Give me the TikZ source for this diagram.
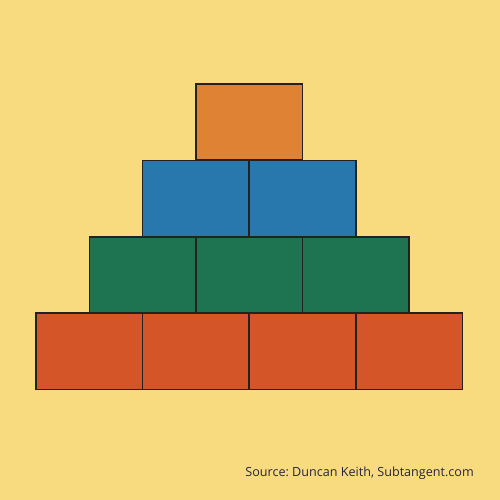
\documentclass[tikz,border=0pt]{standalone}
\usepackage{fontspec}
\setmainfont{Open Sans}
\definecolor{bg}{HTML}{F9DB7F}
\definecolor{cOr}{HTML}{E08233}
\definecolor{cBl}{HTML}{2878AE}
\definecolor{cGr}{HTML}{1E7350}
\definecolor{cRd}{HTML}{D45628}
\definecolor{edge}{HTML}{222222}
\definecolor{txt}{HTML}{25253F}
\begin{document}
\frenchspacing
\begin{tikzpicture}[x=1pt,y=-1pt,
  blk/.style={draw=edge,line width=1.6pt,minimum width=106.6pt,minimum height=76.3pt,inner sep=0pt,outer sep=0pt}]
\fill[bg] (0,0) rectangle (500,500);
\useasboundingbox (0,0) rectangle (500,500);
\def\w{106.6}
% red row
\foreach \i in {0,1,2,3}{
  \node[blk,fill=cRd] (r\i) at ({36+\w*(\i+0.5)},351.2) {};
}
\foreach \i in {0,1,2}{
  \node[blk,fill=cGr] (g\i) at ({36+\w*(\i+1)},275) {};
}
\foreach \i in {0,1}{
  \node[blk,fill=cBl] (b\i) at ({36+\w*(\i+1.5)},198.5) {};
}
\node[blk,fill=cOr] (o) at ({36+\w*2},122) {};
\node[anchor=base east,text=txt,font=\fontsize{12.6}{14}\selectfont,inner sep=0pt] (src) at (474,476) {Source: Duncan Keith, Subtangent.com};
\end{tikzpicture}
\end{document}
